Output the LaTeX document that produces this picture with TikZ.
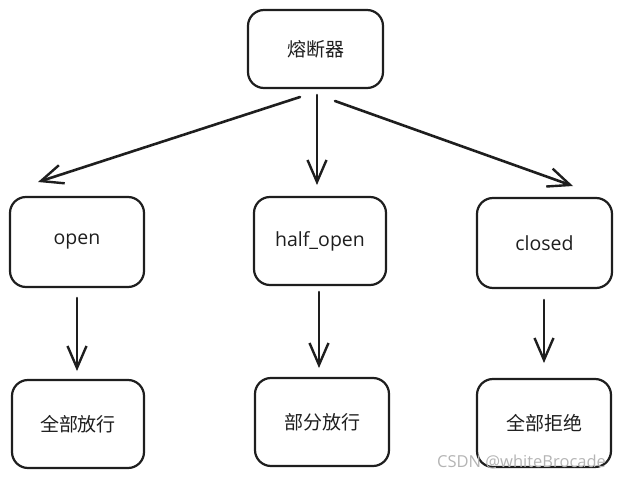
\documentclass[tikz,border=0pt]{standalone}
\usepackage{fontspec}
\setmainfont{Noto Sans CJK SC}
\newfontfamily\latinfont{Open Sans}
\usetikzlibrary{arrows.meta}
\definecolor{ink}{HTML}{1E1E1E}
\definecolor{wm}{HTML}{B4B4B4}
\tikzset{
  box/.style={draw=ink, line width=2.2pt, rounded corners=16pt, inner sep=0pt},
  cjk/.style={font=\fontsize{19}{22}\selectfont, text=ink},
  lat/.style={font=\latinfont\fontsize{19.5}{22}\selectfont, text=ink},
  conn/.style={draw=ink, line width=2.6pt, line cap=round, -{Straight Barb[length=22pt,width=19pt,line width=2.4pt]}},
}
\begin{document}
\begin{tikzpicture}[x=1pt,y=-1pt]
\useasboundingbox (0,0) rectangle (622,479);
\node[box, minimum width=135pt, minimum height=78pt, cjk] (top) at (315.5,49) {熔断器};
\node[box, minimum width=134pt, minimum height=90pt, lat] (open) at (77,242) {open};
\node[box, minimum width=132pt, minimum height=88pt, lat] (half) at (320,241) {half\_open};
\node[box, minimum width=135pt, minimum height=90pt, lat] (closed) at (544.5,243) {closed};
\node[box, minimum width=132pt, minimum height=88pt, cjk] (allpass) at (78,424) {全部放行};
\node[box, minimum width=134pt, minimum height=88pt, cjk] (partpass) at (322,422) {部分放行};
\node[box, minimum width=134pt, minimum height=88pt, cjk] (allrej) at (544,423) {全部拒绝};
\coordinate (t1) at (300,97);
\coordinate (t2) at (317,95);
\coordinate (t3) at (335,101);
\coordinate (e1) at (38,182);
\coordinate (e2) at (317,185);
\coordinate (e3) at (573,186);
\draw[conn] (t1) -- (e1);
\draw[conn] (t2) -- (e2);
\draw[conn] (t3) -- (e3);
\coordinate (o1) at (77,298);
\coordinate (o2) at (77,371);
\coordinate (h1) at (319,292);
\coordinate (h2) at (319,368);
\coordinate (c1) at (544,300);
\coordinate (c2) at (544,363);
\draw[conn] (o1) -- (o2);
\draw[conn] (h1) -- (h2);
\draw[conn] (c1) -- (c2);
\node[font=\fontsize{16.5}{18}\selectfont\latinfont, text=wm, anchor=west, inner sep=0pt] (wmark) at (437,462) {CSDN @whiteBrocade};
\end{tikzpicture}
\end{document}
